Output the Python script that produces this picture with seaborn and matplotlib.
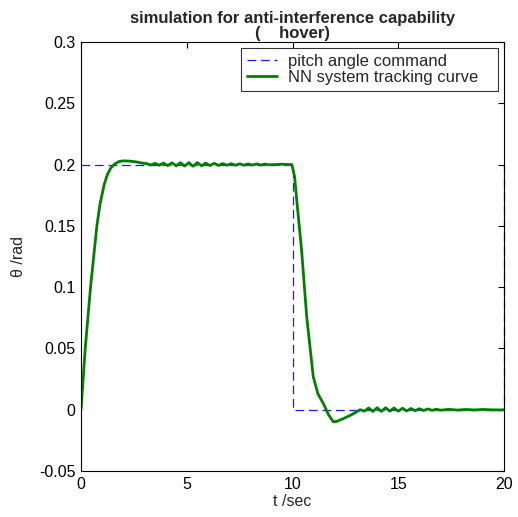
import numpy as np
import pandas as pd
import seaborn as sns
import matplotlib.pyplot as plt

# pitch angle command (square wave)
cmd_t = [0, 10, 10, 20, 20]
cmd_y = [0.2, 0.2, 0, 0, 0.2]

# NN system tracking curve
resp_t = [0, 0.2, 0.45, 0.75, 0.9, 1.1, 1.25, 1.4, 1.6, 1.8, 2.0, 2.3, 2.6, 2.9,
          3.1, 3.3, 3.5, 3.7, 3.9, 4.1, 4.3, 4.5, 4.7, 4.9, 5.1, 5.3, 5.5,
          5.7, 5.9, 6.1, 6.3, 6.5, 6.7, 6.9, 7.1, 7.3, 7.5, 7.7, 7.9, 8.1,
          8.3, 8.5, 8.7, 8.9, 9.2, 9.5, 9.8, 9.97,
          10.1, 10.2, 10.43, 10.67, 10.98, 11.2, 11.46, 11.7, 11.93, 12.1, 12.3,
          12.56, 12.8, 13.0, 13.2,
          13.4, 13.6, 13.8, 14.0, 14.2, 14.4, 14.6, 14.8, 15.0, 15.2, 15.4,
          15.6, 15.8, 16.0, 16.2, 16.4, 16.6, 16.8, 17.0, 17.4, 17.8, 18.2,
          18.6, 19.0, 19.4, 19.8, 20.0]
resp_y = [0, 0.05, 0.10, 0.15, 0.168, 0.184, 0.192, 0.197, 0.2005, 0.2025, 0.203, 0.2028,
          0.2022, 0.2012,
          0.2008, 0.1996, 0.2010, 0.1994, 0.2012, 0.1992, 0.2014, 0.1990, 0.2015, 0.1988,
          0.2016, 0.1986, 0.2016, 0.1990, 0.2012, 0.1992, 0.2010, 0.1993, 0.2008, 0.1994,
          0.2007, 0.1995, 0.2006, 0.1995, 0.2005, 0.1996, 0.2005, 0.1996, 0.2004, 0.1998,
          0.2000, 0.2003, 0.2000, 0.2000,
          0.190, 0.171, 0.130, 0.076, 0.027, 0.013, 0.005, -0.004, -0.0099, -0.0095, -0.008,
          -0.006, -0.004, -0.002, 0.0,
          -0.0012, 0.0014, -0.0014, 0.0016, -0.0014, 0.0016, -0.0012, 0.0014, -0.0012,
          0.0012, -0.0010, 0.0010, -0.0008, 0.0008, -0.0006, 0.0006, -0.0005, 0.0004,
          -0.0004, 0.0003, -0.0003, 0.0002, -0.0002, 0.0002, -0.0001, -0.0002, 0.0]

x_ticks = [0, 5, 10, 15, 20]
y_ticks = [-0.05, 0, 0.05, 0.1, 0.15, 0.2, 0.25, 0.3]

sns.set_style("white")
plt.rcParams['font.family'] = ['Liberation Sans', 'DejaVu Sans']
plt.rcParams['axes.unicode_minus'] = False

fig = plt.figure(figsize=(5.18, 5.17), dpi=100)
ax = fig.add_axes([0.1564, 0.089, 0.8166, 0.8298])

cmd = pd.DataFrame({"t": cmd_t, "y": cmd_y})
resp = pd.DataFrame({"t": resp_t, "y": resp_y})

sns.lineplot(data=cmd, x="t", y="y", sort=False, estimator=None, ax=ax,
             color="#1a1aff", linewidth=0.9, label="pitch angle command")
cmd_line = ax.lines[-1]
cmd_line.set_dashes([7, 3.8])
cmd_line.set_clip_on(False)
sns.lineplot(data=resp, x="t", y="y", sort=False, estimator=None, ax=ax,
             color="#008000", linewidth=2.0, label="NN system tracking curve")

ax.set_xlim(0, 20)
ax.set_ylim(-0.05, 0.3)
ax.set_xticks(x_ticks)
ax.set_yticks(y_ticks)
ax.set_xticklabels([f"{v:g}" for v in x_ticks])
ax.set_yticklabels([f"{v:g}" for v in y_ticks])
ax.tick_params(direction="in", length=4, width=0.8, top=True, right=True,
               labelsize=11.5, colors="black", pad=4)
for s in ax.spines.values():
    s.set_visible(True)
    s.set_color("black")
    s.set_linewidth(0.8)
    s.set_zorder(3)

ax.set_xlabel("t /sec", fontsize=11.5, labelpad=2)
ax.set_ylabel("θ /rad", fontsize=11.5, labelpad=9)
ax.set_title("simulation for anti-interference capability\n(    hover)",
             fontsize=12, fontweight="bold", pad=3, linespacing=1.0)

leg = ax.legend(loc="upper right", fontsize=12, frameon=True, fancybox=False,
                edgecolor="black", handlelength=1.8, handletextpad=0.7,
                borderpad=0.35, labelspacing=0.1, borderaxespad=0.35)
leg.get_frame().set_linewidth(0.8)
leg.get_texts()[1].set_text("NN system tracking curve   ")

fig.savefig("out.png", dpi=100)
